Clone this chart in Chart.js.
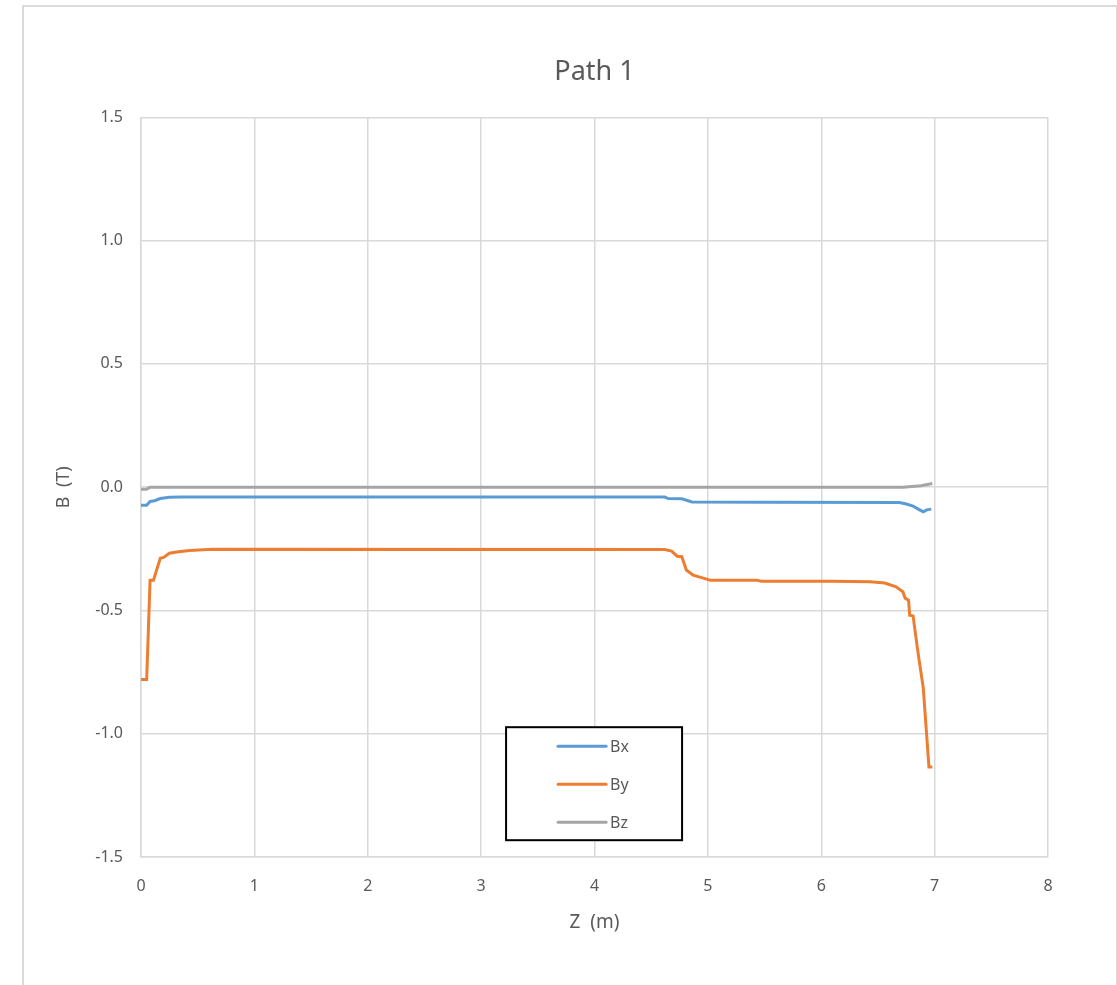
<!DOCTYPE html>
<html>
<head>
<meta charset="utf-8">
<title>Path 1</title>
<script src="https://cdn.jsdelivr.net/npm/chart.js@4.4.1/dist/chart.umd.min.js"></script>
<style>
    html, body { margin: 0; padding: 0; background: #fff; overflow: hidden; }
    #moldura { position: absolute; left: 22px; top: 5px; width: 1092px; height: 1000px; border: 2px solid #dadada; }
    #grafico { position: absolute; left: 0; top: 0; width: 1117px; height: 985px; }
</style>
</head>
<body>
<div id="moldura"></div>
<div id="grafico"><canvas id="graficoPath1" width="1117" height="985"></canvas></div>
<script>
// valores (Z em metros, B em Tesla)
var zBx = [0, 0.05, 0.08, 0.12, 0.17, 0.25, 0.35, 4.62, 4.65, 4.77, 4.86, 5.5, 6.69, 6.75, 6.81, 6.86, 6.9, 6.93, 6.97];
var valBx = [-0.073, -0.073, -0.058, -0.055, -0.046, -0.041, -0.040, -0.040, -0.046, -0.047, -0.060, -0.061, -0.062, -0.068, -0.077, -0.090, -0.100, -0.092, -0.089];

var zBy = [0, 0.05, 0.08, 0.11, 0.17, 0.2, 0.25, 0.33, 0.43, 0.63, 4.62, 4.68, 4.73, 4.77, 4.81, 4.87, 4.96, 5.02, 5.43, 5.47, 6.1, 6.43, 6.56, 6.66, 6.72, 6.74, 6.77, 6.78, 6.81, 6.85, 6.9, 6.95, 6.98];
var valBy = [-0.78, -0.78, -0.377, -0.377, -0.288, -0.285, -0.268, -0.262, -0.257, -0.252, -0.253, -0.259, -0.28, -0.282, -0.336, -0.357, -0.369, -0.377, -0.377, -0.381, -0.381, -0.384, -0.389, -0.404, -0.424, -0.45, -0.458, -0.519, -0.522, -0.66, -0.815, -1.135, -1.135];

var zBz = [0, 0.05, 0.08, 6.72, 6.8, 6.88, 6.98];
var valBz = [-0.008, -0.008, 0, 0, 0.003, 0.006, 0.015];

var nomesSeries = ['Bx', 'By', 'Bz'];
var coresSeries = ['#5B9BD5', '#ED7D31', '#A5A5A5'];

var corTexto = '#595959';
var corGrade = '#d9d9d9';
var fonte = "'Noto Sans', 'Open Sans', sans-serif";

function montaPontos(arrZ, arrB) {
    let pontos = [];
    for (var i in arrZ) {
        pontos.push({ x: arrZ[i], y: arrB[i] });
    }
    return pontos;
}

// legenda desenhada dentro da area do grafico, com moldura preta
const legendaCaixa = {
    id: 'legendaCaixa',
    afterDraw(chart) {
        const ctx = chart.ctx;
        const area = chart.chartArea;
        const x = area.left + (area.right - area.left) * 0.4025;
        const y = area.top + (area.bottom - area.top) * 0.8245;
        const w = 176, h = 113;
        ctx.save();
        ctx.fillStyle = '#fff';
        ctx.fillRect(x, y, w, h);
        ctx.strokeStyle = '#000';
        ctx.lineWidth = 2;
        ctx.strokeRect(x, y, w, h);
        ctx.font = '16px ' + fonte;
        ctx.textBaseline = 'middle';
        ctx.textAlign = 'left';
        chart.data.datasets.forEach(function(ds, i) {
            const ly = y + 19 + i * 38;
            ctx.strokeStyle = ds.borderColor;
            ctx.lineWidth = 3;
            ctx.lineCap = 'round';
            ctx.beginPath();
            ctx.moveTo(x + 52, ly);
            ctx.lineTo(x + 100, ly);
            ctx.stroke();
            ctx.fillStyle = corTexto;
            ctx.fillText(ds.label, x + 104, ly + 1);
        });
        ctx.restore();
    }
};

function MontaGrafico() {
    const campo = document.getElementById('graficoPath1');
    const series = [montaPontos(zBx, valBx), montaPontos(zBy, valBy), montaPontos(zBz, valBz)];
    let datasets = [];
    for (var i in series) {
        datasets.push({
            label: nomesSeries[i],
            data: series[i],
            showLine: true,
            fill: false,
            borderColor: coresSeries[i],
            backgroundColor: coresSeries[i],
            borderWidth: 3,
            pointRadius: 0,
            tension: 0
        });
    }

    new Chart(campo, {
        type: 'scatter',
        data: { datasets: datasets },
        plugins: [legendaCaixa],
        options: {
            responsive: false,
            animation: false,
            layout: { padding: { left: 0, right: 69, top: 0, bottom: 0 } },
            plugins: {
                legend: { display: false },
                tooltip: { enabled: false },
                title: {
                    display: true,
                    fullSize: false,
                    text: 'Path 1',
                    color: corTexto,
                    font: { family: fonte, size: 27, weight: 'normal' },
                    padding: { top: 56, bottom: 29 }
                }
            },
            scales: {
                x: {
                    type: 'linear',
                    min: 0,
                    max: 8,
                    afterFit: function(escala) { escala.height = 128; },
                    border: { color: corGrade, width: 1.5 },
                    grid: { color: corGrade, lineWidth: 1.5, drawTicks: false },
                    ticks: { stepSize: 1, color: corTexto, padding: 20, font: { family: fonte, size: 16 } },
                    title: {
                        display: true,
                        text: 'Z  (m)',
                        color: corTexto,
                        font: { family: fonte, size: 19 },
                        padding: { top: 0, bottom: 51 }
                    }
                },
                y: {
                    type: 'linear',
                    min: -1.5,
                    max: 1.5,
                    afterFit: function(escala) { escala.width = 141; },
                    border: { color: corGrade, width: 1.5 },
                    grid: { color: corGrade, lineWidth: 1.5, drawTicks: false },
                    ticks: {
                        stepSize: 0.5,
                        color: corTexto,
                        padding: 18,
                        font: { family: fonte, size: 16 },
                        callback: function(valor) { return valor.toFixed(1); }
                    },
                    title: {
                        display: true,
                        text: 'B  (T)',
                        color: corTexto,
                        font: { family: fonte, size: 18 },
                        padding: { top: 53, bottom: 0 }
                    }
                }
            }
        }
    });
}

MontaGrafico();
</script>
</body>
</html>
